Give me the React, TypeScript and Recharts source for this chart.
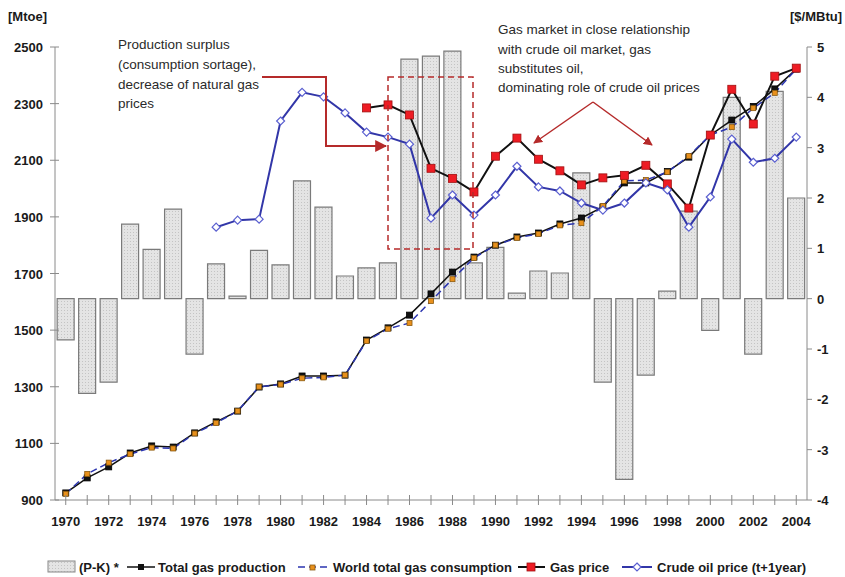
import React from 'react';
import { ComposedChart, Bar, Line, XAxis, YAxis } from 'recharts';

const years = ['1970','1971','1972','1973','1974','1975','1976','1977','1978','1979','1980','1981','1982','1983','1984','1985','1986','1987','1988','1989','1990','1991','1992','1993','1994','1995','1996','1997','1998','1999','2000','2001','2002','2003','2004'];

// (P-K) balance, drawn against the right axis
const pkBalance = [-0.82,-1.88,-1.66,1.48,0.98,1.78,-1.10,0.69,0.05,0.96,0.67,2.34,1.82,0.45,0.61,0.71,4.76,4.82,4.92,0.71,1.02,0.11,0.55,0.51,2.50,-1.66,-3.59,-1.52,0.15,1.74,-0.63,4.00,-1.10,4.12,2.00];

// Mtoe
const totalProduction = [925,978,1017,1066,1091,1087,1137,1176,1214,1299,1310,1338,1338,1341,1465,1508,1553,1628,1705,1758,1800,1829,1843,1875,1896,1935,2020,2020,2060,2111,2189,2242,2290,2352,2422];
const worldConsumption = [922,992,1032,1062,1085,1082,1135,1172,1214,1300,1308,1330,1333,1341,1462,1505,1525,1603,1680,1755,1800,1826,1840,1870,1878,1938,2027,2030,2058,2115,2189,2217,2284,2338,2422];

// $/MBtu
const gasPrice = [null,null,null,null,null,null,null,null,null,null,null,null,null,null,3.79,3.85,3.65,2.59,2.39,2.12,2.83,3.19,2.77,2.54,2.26,2.40,2.45,2.65,2.28,1.80,3.25,4.16,3.47,4.42,4.58];
const crudeOilPrice = [null,null,null,null,null,null,null,1.42,1.56,1.58,3.53,4.10,4.01,3.69,3.31,3.21,3.07,1.60,2.06,1.66,2.06,2.63,2.22,2.14,1.90,1.76,1.90,2.30,2.16,1.42,2.02,3.17,2.71,2.79,3.21];

const leftTicks = [900,1100,1300,1500,1700,1900,2100,2300,2500];
const rightTicks = [-4,-3,-2,-1,0,1,2,3,4,5];

const data = years.map((y, i) => ({
  year: y,
  pk: pkBalance[i],
  production: totalProduction[i],
  consumption: worldConsumption[i],
  gas: gasPrice[i],
  crude: crudeOilPrice[i],
}));

const FONT = '"Liberation Sans", Arial, sans-serif';
const AXIS = '#8a8a8a';

const XTick = (props: any) => {
  const { x, y, payload } = props;
  const yr = Number(payload.value);
  return (
    <g>
      <line x1={x} x2={x} y1={y - 5} y2={y + 5} stroke={AXIS} strokeWidth={1} />
      {yr % 2 === 0 && (
        <text x={x} y={y + 26} textAnchor="middle" fontFamily={FONT} fontWeight="bold" fontSize={13} fill="#1a1a1a">
          {payload.value}
        </text>
      )}
    </g>
  );
};

const LeftTick = (props: any) => {
  const { x, y, payload } = props;
  return (
    <g>
      <line x1={x - 5} x2={x + 4} y1={y} y2={y} stroke={AXIS} strokeWidth={1} />
      <text x={x - 12} y={y + 5} textAnchor="end" fontFamily={FONT} fontWeight="bold" fontSize={13} fill="#1a1a1a">
        {payload.value}
      </text>
    </g>
  );
};

const RightTick = (props: any) => {
  const { x, y, payload } = props;
  return (
    <g>
      <line x1={x} x2={x + 5} y1={y} y2={y} stroke={AXIS} strokeWidth={1} />
      <text x={x + 10} y={y + 5} textAnchor="start" fontFamily={FONT} fontWeight="bold" fontSize={13} fill="#1a1a1a">
        {payload.value}
      </text>
    </g>
  );
};

const squareDot = (size: number, fill: string, stroke: string) => (props: any) => {
  const { cx, cy, index, value } = props;
  if (cx == null || cy == null || value == null) return <g key={`n${index}`} />;
  return <rect key={`d${index}`} x={cx - size / 2} y={cy - size / 2} width={size} height={size} fill={fill} stroke={stroke} strokeWidth={0.8} />;
};

const diamondDot = (props: any) => {
  const { cx, cy, index, value } = props;
  if (cx == null || cy == null || value == null) return <g key={`n${index}`} />;
  const r = 4;
  return (
    <path key={`d${index}`} d={`M${cx},${cy - r} L${cx + r},${cy} L${cx},${cy + r} L${cx - r},${cy} Z`} fill="#ffffff" stroke="#5a5fd0" strokeWidth={1.2} />
  );
};

const textStyle = { fontFamily: FONT, fontSize: 13.5, fill: '#2a2a2a' } as const;
const legendText = { fontFamily: FONT, fontSize: 13, fontWeight: 'bold', fill: '#1a1a1a' } as const;

export default function App() {
  return (
    <div style={{ position: 'absolute', left: 0, top: 0, width: 845, height: 577, background: '#fff' }}>
      <ComposedChart width={845} height={577} data={data} margin={{ top: 47, right: 0, bottom: 47, left: 0 }} barCategoryGap="10%">
        <defs>
          <pattern id="pkDots" width="3" height="3" patternUnits="userSpaceOnUse">
            <rect width="3" height="3" fill="#e4e4e4" />
            <rect x="1" y="1" width="1" height="1" fill="#c4c4c4" />
          </pattern>
        </defs>
        <XAxis dataKey="year" interval={0} tickLine={false} tickSize={0} tickMargin={0} height={30} tick={<XTick />} axisLine={{ stroke: AXIS }} />
        <YAxis yAxisId="left" orientation="left" width={55} domain={[900, 2500]} ticks={leftTicks} tickLine={false} tickSize={0} tickMargin={0} tick={<LeftTick />} axisLine={{ stroke: AXIS }} allowDataOverflow />
        <YAxis yAxisId="right" orientation="right" width={38} domain={[-4, 5]} ticks={rightTicks} tickLine={false} tickSize={0} tickMargin={0} tick={<RightTick />} axisLine={{ stroke: AXIS }} allowDataOverflow />
        <Bar yAxisId="right" dataKey="pk" name="(P-K) *" fill="url(#pkDots)" stroke="#7a7a7a" strokeWidth={1.2} isAnimationActive={false} />
        <Line yAxisId="left" dataKey="production" name="Total gas production" stroke="#111" strokeWidth={1.5} dot={squareDot(6, '#111', '#000')} isAnimationActive={false} />
        <Line yAxisId="left" dataKey="consumption" name="World total gas consumption" stroke="#2b35b0" strokeWidth={1.5} strokeDasharray="7 4" dot={squareDot(5, '#e8901c', '#8a5a10')} isAnimationActive={false} />
        <Line yAxisId="right" dataKey="gas" name="Gas price" stroke="#111" strokeWidth={2} dot={squareDot(8, '#ee1c24', '#a01010')} connectNulls={false} isAnimationActive={false} />
        <Line yAxisId="right" dataKey="crude" name="Crude oil price (t+1year)" stroke="#3236a8" strokeWidth={2} dot={diamondDot} connectNulls={false} isAnimationActive={false} />
      </ComposedChart>

      <svg width={845} height={577} style={{ position: 'absolute', left: 0, top: 0, pointerEvents: 'none' }}>
        <defs>
          <pattern id="pkDotsLegend" width="3" height="3" patternUnits="userSpaceOnUse">
            <rect width="3" height="3" fill="#e4e4e4" />
            <rect x="1" y="1" width="1" height="1" fill="#c4c4c4" />
          </pattern>
          <marker id="arrRed" viewBox="0 0 10 10" refX="9" refY="5" markerWidth="6" markerHeight="6" orient="auto">
            <path d="M0,0 L10,5 L0,10 Z" fill="#b52a2a" />
          </marker>
        </defs>

        {/* axis unit labels */}
        <text x={8} y={21} {...legendText}>[Mtoe]</text>
        <text x={790} y={21} {...legendText}>[$/MBtu]</text>

        {/* left annotation */}
        <text x={118} y={49} {...textStyle}>Production surplus</text>
        <text x={118} y={69} {...textStyle}>(consumption sortage),</text>
        <text x={118} y={89} {...textStyle}>decrease of natural gas</text>
        <text x={118} y={108} {...textStyle}>prices</text>
        <polyline points="262,77 326,77 326,146 386,146" fill="none" stroke="#b52a2a" strokeWidth={2} markerEnd="url(#arrRed)" />
        <rect x={388} y={77} width={85} height={172} fill="none" stroke="#b52a2a" strokeWidth={1.5} strokeDasharray="6 4" />

        {/* right annotation */}
        <text x={498} y={34} {...textStyle}>Gas market in close relationship</text>
        <text x={498} y={54} {...textStyle}>with crude oil market, gas</text>
        <text x={498} y={73} {...textStyle}>substitutes oil,</text>
        <text x={498} y={92} {...textStyle}>dominating role of crude oil prices</text>
        <line x1={593} y1={102} x2={534} y2={143} stroke="#b52a2a" strokeWidth={1.5} markerEnd="url(#arrRed)" />
        <line x1={593} y1={102} x2={652} y2={145} stroke="#b52a2a" strokeWidth={1.5} markerEnd="url(#arrRed)" />

        {/* legend */}
        <rect x={48} y={561} width={27} height={11} fill="url(#pkDotsLegend)" stroke="#888" strokeWidth={1} />
        <text x={79} y={572} {...legendText}>(P-K) *</text>
        <line x1={127} x2={155} y1={567} y2={567} stroke="#111" strokeWidth={1.5} />
        <rect x={138} y={564} width={6} height={6} fill="#111" />
        <text x={158} y={572} {...legendText}>Total gas production</text>
        <line x1={298} x2={327} y1={567} y2={567} stroke="#2b35b0" strokeWidth={1.5} strokeDasharray="7 4" />
        <rect x={310} y={565} width={5} height={5} fill="#e8901c" stroke="#8a5a10" strokeWidth={0.8} />
        <text x={333} y={572} {...legendText}>World total gas consumption</text>
        <line x1={518} x2={545} y1={567} y2={567} stroke="#111" strokeWidth={2} />
        <rect x={527} y={563} width={8} height={8} fill="#ee1c24" stroke="#a01010" strokeWidth={0.8} />
        <text x={550} y={572} {...legendText}>Gas price</text>
        <line x1={622} x2={652} y1={567} y2={567} stroke="#3236a8" strokeWidth={2} />
        <path d="M637,563 L641,567 L637,571 L633,567 Z" fill="#fff" stroke="#5a5fd0" strokeWidth={1.2} />
        <text x={657} y={572} {...legendText}>Crude oil price (t+1year)</text>
      </svg>
    </div>
  );
}
